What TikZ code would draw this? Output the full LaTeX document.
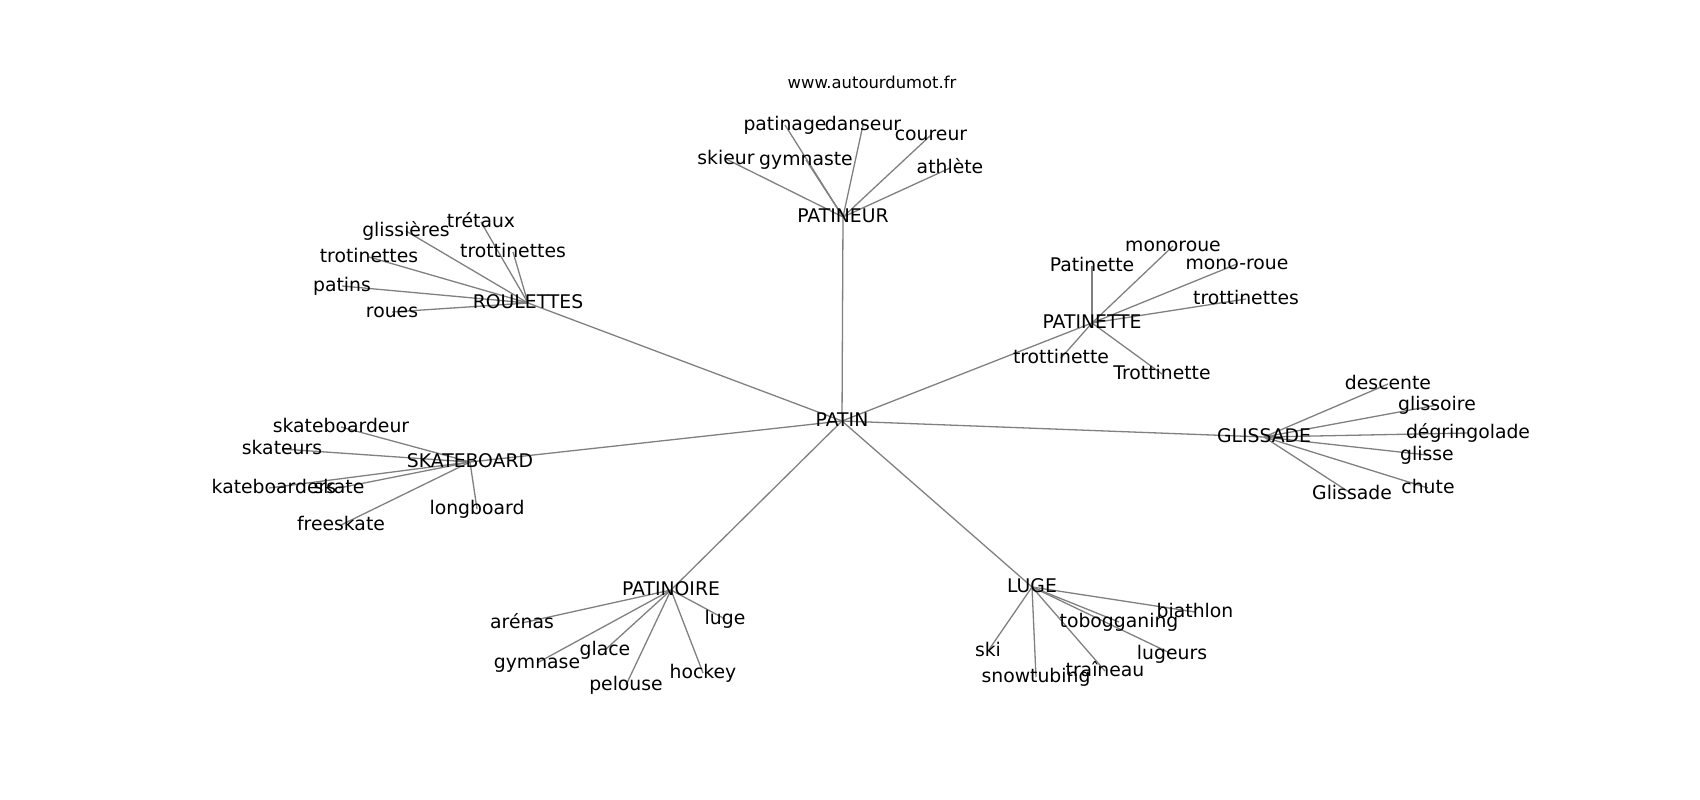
\documentclass[tikz,border=0pt]{standalone}
\usepackage{fontspec}
\setmainfont{DejaVu Sans}
\pgfdeclarelayer{background}
\pgfsetlayers{background,main}
\tikzset{
  lbl/.style={font=\fontsize{18.8}{22}\selectfont, inner sep=0pt, text height=14.3pt, text depth=3.9pt, text=black},
  ttl/.style={font=\fontsize{16.4}{20}\selectfont, inner sep=0pt, text height=12.5pt, text depth=3.4pt, text=black},
  link/.style={draw=gray, line width=1.3pt}
}
\begin{document}
\begin{tikzpicture}[x=1pt,y=-1pt]
\useasboundingbox (0,0) rectangle (1700,800);
\node[ttl] (title) at (872,84) {www.autourdumot.fr};
\begin{scope}
\clip (212.5,96) rectangle (1530,712);
% hubs
\node[lbl] (patin) at (842,421) {PATIN};
\node[lbl] (patineur) at (843,217) {PATINEUR};
\node[lbl] (roulettes) at (528,303) {ROULETTES};
\node[lbl] (skateboard) at (470,462) {SKATEBOARD};
\node[lbl] (patinette) at (1092,323) {PATINETTE};
\node[lbl] (glissade) at (1264,437) {GLISSADE};
\node[lbl] (patinoire) at (671,590) {PATINOIRE};
\node[lbl] (luge) at (1032,587) {LUGE};
% PATINEUR
\node[lbl] (patinage) at (785,125) {patinage};
\node[lbl] (danseur) at (863,125) {danseur};
\node[lbl] (coureur) at (931,135) {coureur};
\node[lbl] (skieur) at (726,159) {skieur};
\node[lbl] (gymnaste) at (806,160) {gymnaste};
\node[lbl] (athlete) at (950,168) {athlète};
% ROULETTES
\node[lbl] (glissieres) at (406,231) {glissières};
\node[lbl] (tretaux) at (481,222) {trétaux};
\node[lbl] (trotinettes) at (369,257) {trotinettes};
\node[lbl] (trottinettesA) at (513,252) {trottinettes};
\node[lbl] (patins) at (342,286) {patins};
\node[lbl] (roues) at (392,312) {roues};
% SKATEBOARD
\node[lbl] (skateboardeur) at (341,427) {skateboardeur};
\node[lbl] (skateurs) at (282,449) {skateurs};
\node[lbl] (skateboarders) at (269,488) {skateboarders};
\node[lbl] (skate) at (339,488) {skate};
\node[lbl] (longboard) at (477,509) {longboard};
\node[lbl] (freeskate) at (341,525) {freeskate};
% PATINETTE
\node[lbl] (monoroue) at (1173,246) {monoroue};
\node[lbl] (Patinette) at (1092,266) {Patinette};
\node[lbl] (monoroueB) at (1237,264) {mono-roue};
\node[lbl] (trottinettesB) at (1246,299) {trottinettes};
\node[lbl] (trottinette) at (1061,358) {trottinette};
\node[lbl] (Trottinette) at (1162,374) {Trottinette};
% GLISSADE
\node[lbl] (descente) at (1388,384) {descente};
\node[lbl] (glissoire) at (1437,405) {glissoire};
\node[lbl] (degringolade) at (1468,433) {dégringolade};
\node[lbl] (glisse) at (1427,455) {glisse};
\node[lbl] (chute) at (1428,488) {chute};
\node[lbl] (Glissade) at (1352,494) {Glissade};
% PATINOIRE
\node[lbl] (arenas) at (522,623) {arénas};
\node[lbl] (lugeA) at (725,619) {luge};
\node[lbl] (glace) at (605,650) {glace};
\node[lbl] (gymnase) at (537,663) {gymnase};
\node[lbl] (pelouse) at (626,685) {pelouse};
\node[lbl] (hockey) at (703,673) {hockey};
% LUGE
\node[lbl] (biathlon) at (1195,612) {biathlon};
\node[lbl] (tobogganing) at (1119,622) {tobogganing};
\node[lbl] (ski) at (988,651) {ski};
\node[lbl] (lugeurs) at (1172,654) {lugeurs};
\node[lbl] (snowtubing) at (1036,677) {snowtubing};
\node[lbl] (traineau) at (1105,671) {traîneau};
\end{scope}
\begin{pgfonlayer}{background}
\foreach \a/\b in {
  patin/patineur, patin/roulettes, patin/skateboard, patin/patinette,
  patin/glissade, patin/patinoire, patin/luge,
  patineur/patinage, patineur/danseur, patineur/coureur, patineur/skieur,
  patineur/gymnaste, patineur/athlete,
  roulettes/glissieres, roulettes/tretaux, roulettes/trotinettes,
  roulettes/trottinettesA, roulettes/patins, roulettes/roues,
  skateboard/skateboardeur, skateboard/skateurs, skateboard/skateboarders,
  skateboard/skate, skateboard/longboard, skateboard/freeskate,
  patinette/monoroue, patinette/Patinette, patinette/monoroueB,
  patinette/trottinettesB, patinette/trottinette, patinette/Trottinette,
  glissade/descente, glissade/glissoire, glissade/degringolade,
  glissade/glisse, glissade/chute, glissade/Glissade,
  patinoire/arenas, patinoire/lugeA, patinoire/glace, patinoire/gymnase,
  patinoire/pelouse, patinoire/hockey,
  luge/biathlon, luge/tobogganing, luge/ski, luge/lugeurs,
  luge/snowtubing, luge/traineau}
  \draw[link] (\a.center) -- (\b.center);
\end{pgfonlayer}
\end{tikzpicture}
\end{document}
